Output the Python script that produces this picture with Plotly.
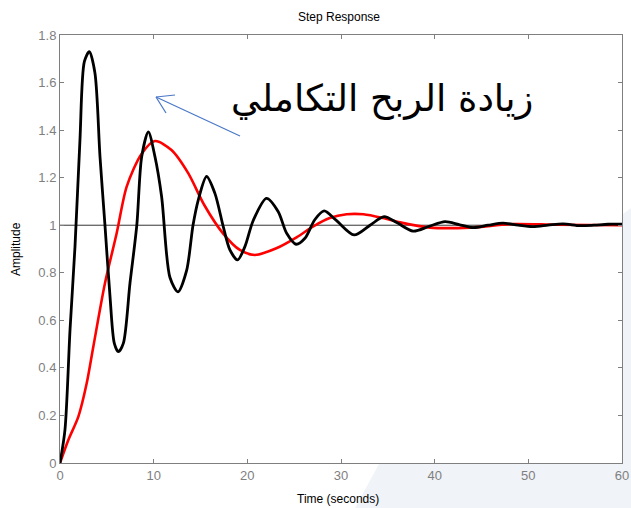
import plotly.graph_objects as go

# ---- data ----
t_high = [0, 0.53, 1.07, 1.6, 2.13, 2.6, 3.13, 3.73, 4.27, 4.8, 5.34, 5.8, 6.23, 6.76, 7.47,
          8.2, 8.72, 9.43, 10.14, 10.85, 11.74, 12.6, 13.52, 14.2, 14.76, 15.65, 16.54,
          17.43, 18.14, 18.96, 19.74, 20.63, 22.05, 23.3, 24.2, 25.2, 26.15, 27.2, 28.2,
          29.5, 31.4, 33.1, 34.6, 36.0, 37.7, 39.4, 41.1, 42.6, 44.1, 45.7, 47.3, 48.9,
          50.5, 52.1, 53.7, 55.5, 57.0, 58.5, 60.0]
a_high = [0, 0.139, 0.56, 0.91, 1.358, 1.688, 1.73, 1.64, 1.288, 1.0, 0.70, 0.503, 0.468,
          0.503, 0.756, 1.0, 1.288, 1.393, 1.288, 1.12, 0.78, 0.72, 0.81, 1.0, 1.106, 1.205,
          1.134, 0.994, 0.896, 0.854, 0.91, 1.02, 1.113, 1.057, 0.966, 0.92, 0.945, 1.023,
          1.06, 1.02, 0.959, 1.0, 1.036, 1.01, 0.975, 0.995, 1.015, 1.003, 0.99, 1.0, 1.009,
          1.0, 0.994, 1.0, 1.006, 0.998, 1.0, 1.004, 1.004]

t_low = [0, 0.89, 1.96, 2.85, 3.56, 4.8, 6.05, 7.12, 8.7, 10.14, 11.9, 13.7, 15.4, 17.4,
         19.2, 20.8, 23.1, 25.3, 27.0, 28.8, 30.6, 32.4, 34.5, 36.3, 39.5, 43.8, 48.3,
         53.0, 60.0]
a_low = [0, 0.097, 0.195, 0.335, 0.49, 0.756, 0.966, 1.162, 1.30, 1.354, 1.316, 1.218,
         1.085, 0.966, 0.896, 0.875, 0.903, 0.95, 0.994, 1.03, 1.046, 1.046, 1.03, 1.012,
         0.99, 0.99, 1.005, 1.002, 1.0]

reference_level = 1.0
x_ticks = [0, 10, 20, 30, 40, 50, 60]
y_ticks = [0, 0.2, 0.4, 0.6, 0.8, 1.0, 1.2, 1.4, 1.6, 1.8]

title_text = "Step Response"
x_label = "Time (seconds)"
y_label = "Amplitude"
note_text = "زيادة الربح التكاملي"

# ---- layout geometry ----
W, H = 631, 508
ML, MR, MT, MB = 60, 9, 35, 45
PW, PH = W - ML - MR, H - MT - MB


def px(xp):
    return (xp - ML) / PW


def py(yp):
    return (H - MB - yp) / PH


fig = go.Figure()

fig.add_trace(go.Scatter(x=t_low, y=a_low, mode="lines",
                         line=dict(color="#ff0000", width=2.6, shape="spline", smoothing=0.8),
                         hoverinfo="skip"))
fig.add_trace(go.Scatter(x=t_high, y=a_high, mode="lines",
                         line=dict(color="#000000", width=2.8, shape="spline", smoothing=0.8),
                         hoverinfo="skip"))

fig.add_hline(y=reference_level, line=dict(color="#000000", width=0.8), layer="below")

shapes = []
# light background swoosh at bottom right (slide backdrop), outside the plot area only
bg_path = "M {} {} L {} {} L {} {} L {} {} L {} {} L {} {} Z".format(
    px(355), py(508), px(379), py(464), px(623), py(464), px(623), py(214),
    px(631), py(208), px(631), py(508))
shapes.append(dict(type="path", xref="paper", yref="paper", path=bg_path,
                   fillcolor="#f0f3f7", line=dict(width=0), layer="below"))

# blue arrow
arrow_col = "#4a78c8"
for (x0, y0, x1, y1) in [(240, 136, 156, 97), (156, 97, 175, 95), (156, 97, 166, 113)]:
    shapes.append(dict(type="line", xref="paper", yref="paper",
                       x0=px(x0), y0=py(y0), x1=px(x1), y1=py(y1),
                       line=dict(color=arrow_col, width=1.2)))

fig.update_layout(shapes=fig.layout.shapes + tuple(shapes))

annotations = [
    dict(text=note_text, xref="paper", yref="paper", x=px(382), y=py(98),
         xanchor="center", yanchor="middle", showarrow=False,
         font=dict(family="DejaVu Sans", size=37, color="#000000")),
    dict(text=x_label, xref="paper", yref="paper", x=px(338), y=py(499),
         xanchor="center", yanchor="middle", showarrow=False,
         font=dict(family="Liberation Sans, Arial", size=12, color="#000000")),
    dict(text=y_label, xref="paper", yref="paper", x=px(16), y=py(249),
         xanchor="center", yanchor="middle", showarrow=False, textangle=-90,
         font=dict(family="Liberation Sans, Arial", size=12, color="#000000")),
]

axis_common = dict(showline=True, linecolor="#7f7f7f", linewidth=1, mirror="ticks",
                   ticks="inside", ticklen=4, tickcolor="#7f7f7f", tickwidth=1,
                   showgrid=False, zeroline=False, automargin=False,
                   tickfont=dict(family="Liberation Sans, Arial", size=13, color="#7f7f7f"))

fig.update_layout(
    width=W, height=H, autosize=False,
    margin=dict(l=ML, r=MR, t=MT, b=MB, pad=0, autoexpand=False),
    paper_bgcolor="#ffffff", plot_bgcolor="#ffffff",
    showlegend=False,
    title=dict(text=title_text, x=339 / W, xanchor="center",
               y=1 - 17 / H, yanchor="middle", yref="container",
               font=dict(family="Liberation Sans, Arial", size=12, color="#000000")),
    xaxis=dict(range=[0, 60], tickvals=x_ticks, ticktext=[str(v) for v in x_ticks], **axis_common),
    yaxis=dict(range=[0, 1.8], tickvals=y_ticks, ticktext=[f"{v:g}" for v in y_ticks], **axis_common),
    annotations=annotations,
)

fig.write_html("out.html",
               config={"displayModeBar": False, "responsive": False},
               post_script="document.body.style.margin='0';document.body.style.overflow='hidden';")
